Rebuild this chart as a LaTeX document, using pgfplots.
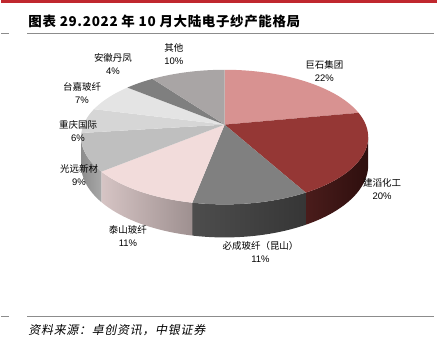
\documentclass[border=0pt]{standalone}
\usepackage{pgfplots}
\pgfplotsset{compat=1.18}
\usepackage{pgfplotstable}
\usepackage{fontspec}
\setmainfont{Liberation Sans}
\newfontfamily\cjk{Noto Sans CJK SC}
\newfontfamily\cjktitle{Noto Sans CJK SC}[LetterSpace=5]
\newfontfamily\cjkit{Noto Sans CJK SC}[FakeSlant=0.2, LetterSpace=6]

% slice percentages, clockwise from 12 o'clock
\pgfplotstableread{
name pct
JuShi 22
JianTao 20
BiCheng 11
TaiShan 11
GuangYuan 9
ChongQing 6
TaiJia 7
AnHui 4
Other 10
}\piedata

\definecolor{c0}{HTML}{D89291}
\definecolor{c1}{HTML}{953735}
\definecolor{c2}{HTML}{808080}
\definecolor{c3}{HTML}{F2DCDB}
\definecolor{c4}{HTML}{BFBFBF}
\definecolor{c5}{HTML}{D6D6D6}
\definecolor{c6}{HTML}{E4E4E4}
\definecolor{c7}{HTML}{7F7F7F}
\definecolor{c8}{HTML}{A9A5A5}
% side colours (left / right)
\definecolor{sl0}{HTML}{8A5A5A}\definecolor{sr0}{HTML}{6A4040}
\definecolor{sl1}{HTML}{4A1C1B}\definecolor{sr1}{HTML}{2E0F0E}
\definecolor{sl2}{HTML}{4D4D4D}\definecolor{sr2}{HTML}{363636}
\definecolor{sl3}{HTML}{D6C4C4}\definecolor{sr3}{HTML}{9E9090}
\definecolor{sl4}{HTML}{8C8C8C}\definecolor{sr4}{HTML}{A8A8A8}
\definecolor{sl5}{HTML}{8C8C8C}\definecolor{sr5}{HTML}{8C8C8C}
\definecolor{sl6}{HTML}{8C8C8C}\definecolor{sr6}{HTML}{8C8C8C}
\definecolor{sl7}{HTML}{8C8C8C}\definecolor{sr7}{HTML}{8C8C8C}
\definecolor{sl8}{HTML}{8C8C8C}\definecolor{sr8}{HTML}{8C8C8C}
\definecolor{toprule}{HTML}{C0282E}
\definecolor{rulegray}{HTML}{8C8C8C}

% pie geometry (image pixel coordinates, perspective)
\def\cx{224}\def\cy{125}\def\ra{141.5}\def\rb{65.2}\def\kk{0.185}\def\dd{27}
\def\vislo{-169.34}\def\vishi{-10.66}

% append arc points from #1 to #2 (degrees); #3 = 0 top, 1 bottom
\newcommand\addarc[3]{%
  \foreach \j in {0,...,40}{%
    \pgfmathsetmacro\t{#1+(#2-#1)*\j/40}%
    \pgfmathsetmacro\den{1+\kk*sin(\t)}%
    \pgfmathsetmacro\X{\cx+\ra*cos(\t)/\den}%
    \pgfmathsetmacro\Y{\cy-\rb*sin(\t)/\den+#3*\dd/\den}%
    \xdef\pts{\pts (\X,\Y)}%
  }%
}

\begin{document}
\begin{tikzpicture}
\begin{axis}[at={(0,0)}, anchor=south west, width=439bp, height=356bp,
  scale only axis, xmin=0, xmax=439, ymin=0, ymax=356, y dir=reverse,
  hide axis, clip=false]

% ---- side faces
\xdef\curang{90}
\pgfplotsforeachungrouped \i in {0,...,8}{%
  \pgfplotstablegetelem{\i}{pct}\of\piedata
  \pgfmathsetmacro\hi{\curang}%
  \pgfmathsetmacro\lo{\curang-3.6*\pgfplotsretval}%
  \xdef\curang{\lo}%
  \pgfmathsetmacro\clo{max(\lo,\vislo)}%
  \pgfmathsetmacro\chi{min(\hi,\vishi)}%
  \ifdim\clo pt<\chi pt
    \xdef\pts{}%
    \addarc{\clo}{\chi}{0}%
    \addarc{\chi}{\clo}{1}%
    \edef\tmp{\noexpand\addplot[draw=none, left color=sl\i, right color=sr\i] coordinates {\pts};}%
    \tmp
  \fi
}

% ---- top faces
\xdef\curang{90}
\pgfplotsforeachungrouped \i in {0,...,8}{%
  \pgfplotstablegetelem{\i}{pct}\of\piedata
  \pgfmathsetmacro\hi{\curang}%
  \pgfmathsetmacro\lo{\curang-3.6*\pgfplotsretval}%
  \xdef\curang{\lo}%
  \xdef\pts{}%
  \addarc{\hi}{\lo}{0}%
  \xdef\pts{\pts (\cx,\cy)}%
  \edef\tmp{\noexpand\addplot[draw=none, fill=c\i] coordinates {\pts};}%
  \tmp
}

% ---- labels
\begin{scope}[every node/.style={align=center, inner sep=0pt,
   font=\fontsize{9.5bp}{13bp}\selectfont}]
\node at (axis cs:324,71.5) {{\cjk 巨石集团}\\22\%};
\node at (axis cs:382,189.5) {{\cjk 建滔化工}\\20\%};
\node at (axis cs:260,253) {{\cjk 必成玻纤（昆山）}\\11\%};
\node at (axis cs:127,237) {{\cjk 泰山玻纤}\\11\%};
\node at (axis cs:78,175.5) {{\cjk 光远新材}\\9\%};
\node at (axis cs:77,131.5) {{\cjk 重庆国际}\\6\%};
\node at (axis cs:81,93.5) {{\cjk 台嘉玻纤}\\7\%};
\node at (axis cs:112,64) {{\cjk 安徽丹凤}\\4\%};
\node at (axis cs:173,54) {{\cjk 其他}\\10\%};
\end{scope}

% ---- frame, title, source
\draw[toprule, line width=2.6bp] (axis cs:0,1.4) -- (axis cs:437,1.4);
\draw[rulegray, line width=1bp] (axis cs:0,33.5) -- (axis cs:8,33.5);
\draw[rulegray, line width=1bp] (axis cs:26,33.5) -- (axis cs:434,33.5);
\draw[rulegray, line width=1bp] (axis cs:0,317) -- (axis cs:8,317);
\draw[rulegray, line width=1bp] (axis cs:26,317) -- (axis cs:434,317);
\node[anchor=west, inner sep=0pt, font=\fontsize{13.5bp}{15bp}\selectfont]
  at (axis cs:27,21.5) {\cjktitle\bfseries 图表 29.2022 年 10 月大陆电子纱产能格局};
\node[anchor=west, inner sep=0pt, font=\fontsize{12bp}{13bp}\selectfont]
  at (axis cs:27,331) {\cjkit 资料来源：卓创资讯，中银证券};
\end{axis}
\path (0,0) rectangle (439bp,356bp);
\end{tikzpicture}
\end{document}
